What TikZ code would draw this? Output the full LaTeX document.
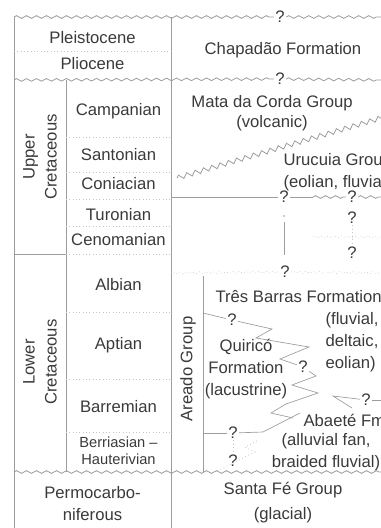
\documentclass[tikz,border=0pt]{standalone}
\usepackage{fontspec}
\setmainfont{Liberation Sans}
\usetikzlibrary{decorations.pathmorphing,positioning}
\definecolor{txtgray}{HTML}{3A3A3A}
\definecolor{linegray}{HTML}{9C9C9C}
\definecolor{lightgray}{HTML}{C4C4C4}

\begin{document}
\begin{tikzpicture}[x=0.75pt,y=-0.75pt,
  every node/.style={text=txtgray,font=\fontsize{12.5}{16.5}\selectfont,inner sep=1pt},
  small/.style={font=\fontsize{11}{12.8}\selectfont},
  rule/.style={draw=linegray,line width=0.6pt},
  stageline/.style={draw=lightgray,dotted,line width=0.5pt},
  wavy/.style={draw=linegray,line width=0.6pt,decorate,decoration={zigzag,segment length=7.5pt,amplitude=1pt}},
  slope/.style={draw=linegray,line width=0.6pt,decorate,decoration={zigzag,segment length=6.5pt,amplitude=1.8pt}},
  faint/.style={draw=lightgray,line width=0.5pt,dotted,decorate,decoration={zigzag,segment length=5pt,amplitude=0.8pt}},
  tongue/.style={draw=linegray,line width=0.5pt},
  guess/.style={draw=lightgray,line width=0.6pt,dotted}]

\useasboundingbox (0,0) rectangle (381,528);
\clip (0,0) rectangle (381,528);

\node (pleistocene) at (92.5,38) {Pleistocene};
\node (pliocene) at (92.5,64) {Pliocene};
\node (upper) [rotate=90, align=center] at (40,157) {Upper\\Cretaceous};
\node (lower) [rotate=90, align=center] at (40,362) {Lower\\Cretaceous};
\node (permo) [align=center] at (92.5,504) {Permocarbo-\\niferous};

\node (campanian) at (118.5,111) {Campanian};
\node (santonian) at (118.5,155) {Santonian};
\node (coniacian) at (118.5,184) {Coniacian};
\node (turonian) at (118.5,215) {Turonian};
\node (cenomanian) at (118.5,240) {Cenomanian};
\node (albian) at (118.5,285) {Albian};
\node (aptian) at (118.5,345) {Aptian};
\node (barremian) at (118.5,407) {Barremian};
\node (berriasian) [small, align=center] at (118.5,451) {Berriasian --\\Hauterivian};

\node (chapadao) at (283,50) {Chapadão Formation};
\node (matacorda) at (272,103) {Mata da Corda Group};
\node (volcanic) at (272,123) {(volcanic)};
\node (urucuia) [anchor=west, align=left] at (282,172) {Urucuia Group\\(eolian, fluvial)};
\node (areado) [rotate=90] at (188,369) {Areado Group};
\node (tresbarras) [anchor=west] at (214,297) {Três Barras Formation};
\node (tbfacies) [anchor=west, align=left] at (324,342) {(fluvial,\\deltaic,\\eolian)};
\node (quirico) [align=center] at (246,369) {Quiricó\\Formation\\(lacustrine)};
\node (abaete) [anchor=west] at (302,420) {Abaeté Fm};
\node (abfacies) [align=center] at (326,452) {(alluvial fan,\\braided fluvial)};
\node (santafe) at (283,490) {Santa Fé Group};
\node (glacial) at (283,515) {(glacial)};

\node (qtop) at (280,17) {?};
\node (qmid) at (280,79) {?};
\node (qur) at (284,197) {?};
\node (qus) at (352,197) {?};
\node (qdot) at (352,218) {?};
\node (qlow) at (352,253) {?};
\node (qalb) at (285,272) {?};
\node (qtb) at (232,320) {?};
\node (qqf) at (303,367) {?};
\node (qab) at (366,400) {?};
\node (qbase) at (233,433) {?};
\node (qfan) at (233,461) {?};

\draw[rule] (14,17) -- (14,528);
\draw[rule] (171,17) -- (171,528);
\draw[rule] (66,80) -- (66,472);
\draw[rule] (14,254) -- (66,254);
\draw[rule] (203,276) -- (203,472);

\draw[stageline] (14,51) -- (171,51);
\foreach \y in {137,172,199,226,254,312,379,432}
  \draw[stageline] (66,\y) -- (171,\y);

\draw[wavy] (14,17) -- (qtop);
\draw[wavy] (qtop) -- (381,17);
\draw[wavy] (14,80) -- (qmid);
\draw[wavy] (qmid) -- (381,80);
\draw[wavy] (14,472) -- (381,472);

\draw[slope] (177,178) -- (381,118);
\draw[rule] (171,197) -- (qur);
\draw[rule] (qur) -- (313,197);
\draw[wavy] (313,197) -- (qus);
\draw[wavy] (qus) -- (381,197);
\fill[linegray] (284,216) circle (0.9);
\draw[rule] (284,222) -- (284,255);
\draw[guess] (qdot) -- (qlow);
\draw[faint] (313,237) -- (381,237);

\draw[faint] (171,273) -- (qalb);
\draw[faint] (qalb) -- (381,273);

\draw[tongue] (203,313) -- (qtb);
\draw[tongue] (qtb) -- (272,329) -- (256,338) -- (309,347) -- (280,359) -- (qqf);
\draw[tongue] (qqf) -- (316,376) -- (292,385) -- (318,393) -- (286,404) -- (271,413) -- (293,418);
\draw[tongue] (381,400) -- (qab);
\draw[tongue] (qab) -- (333,396) -- (352,408);
\draw[tongue] (203,433) -- (qbase);
\draw[tongue] (qbase) -- (263,432) -- (300,413);
\draw[guess] (qbase) -- (qfan);
\draw[guess] (257,441) -- (245,447) -- (255,452) -- (215,472);
\end{tikzpicture}
\end{document}
